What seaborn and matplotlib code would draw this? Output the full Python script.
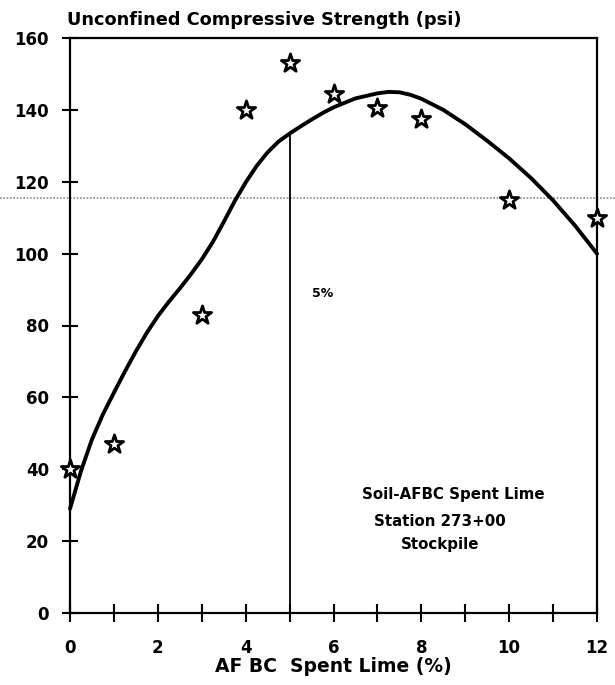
import matplotlib
matplotlib.use("Agg")
import matplotlib.pyplot as plt
import matplotlib.transforms as mtransforms
import seaborn as sns
import pandas as pd

# Measured strengths (stars)
lime_pct = [0, 1, 3, 4, 5, 6, 7, 8, 10, 12]
strength = [40, 47, 83, 140, 153, 144.5, 140.5, 137.5, 115, 110]

# Fitted strength curve
curve_pct = [0, 0.25, 0.5, 0.75, 1, 1.25, 1.5, 1.75, 2, 2.25, 2.5, 2.75,
             3, 3.25, 3.5, 3.75, 4, 4.25, 4.5, 4.75, 5, 5.25, 5.5, 5.75,
             6, 6.5, 7, 7.25, 7.5, 7.75, 8, 8.5, 9, 9.5, 10, 10.5, 11,
             11.5, 12]
curve_strength = [29, 39.5, 48.3, 55.3, 61.3, 67.2, 72.8, 78, 82.6, 86.6,
                  90.3, 94.2, 98.4, 103.2, 108.8, 114.6, 119.8, 124.4,
                  128.2, 131.2, 133.4, 135.4, 137.3, 139.1, 140.7, 143.2,
                  144.6, 145, 144.9, 144.2, 143.1, 140, 136, 131.4, 126.5,
                  121, 114.8, 107.8, 100]

# Optimum lime content marker
optimum_pct = 5
optimum_strength = 133.4

# Horizontal reference line across the sheet
ref_level = 115.6

x_ticks = list(range(0, 13))
x_tick_labels = [str(v) if v % 2 == 0 else "" for v in x_ticks]
y_ticks = list(range(0, 161, 20))

sns.set_style("white")
plt.rcParams["font.family"] = ["DejaVu Sans"]
plt.rcParams["font.weight"] = "bold"
plt.rcParams["text.color"] = "black"

fig = plt.figure(figsize=(6.15, 6.85), dpi=100)
ax = fig.add_axes([70 / 615, 1 - 613 / 685, 527 / 615, 575 / 685])

curve_df = pd.DataFrame({"pct": curve_pct, "ucs": curve_strength})
pts_df = pd.DataFrame({"pct": lime_pct, "ucs": strength})

sns.lineplot(data=curve_df, x="pct", y="ucs", ax=ax, color="black",
             linewidth=2.8, sort=False, clip_on=False, zorder=3)
for ln in ax.lines:
    ln.set_solid_joinstyle("round")
    ln.set_solid_capstyle("round")
sns.scatterplot(data=pts_df, x="pct", y="ucs", ax=ax, marker="*", s=190,
                facecolor="white", edgecolor="black", linewidth=2.0,
                clip_on=False, zorder=4)

ax.plot([optimum_pct, optimum_pct], [0, optimum_strength], color="black",
        linewidth=1.3, zorder=2)
ax.text(5.75, 89, "5%", ha="center", va="center", fontsize=9,
        fontweight="bold", color="black")

ax.text(8.72, 33, "Soil-AFBC Spent Lime", ha="center", va="center",
        fontsize=10.8, fontweight="bold", color="black")
ax.text(8.43, 25.4, "Station 273+00", ha="center", va="center",
        fontsize=10.8, fontweight="bold", color="black")
ax.text(8.43, 19.2, "Stockpile", ha="center", va="center",
        fontsize=10.8, fontweight="bold", color="black")

trans = mtransforms.blended_transform_factory(fig.transFigure, ax.transData)
ax.plot([0, 1], [ref_level, ref_level], transform=trans, color="#8a8a8a",
        linestyle=(0, (1, 1)), linewidth=1.2, clip_on=False, zorder=1)

ax.set_xlim(0, 12)
ax.set_ylim(0, 160)
ax.set_xticks(x_ticks)
ax.set_xticklabels(x_tick_labels)
ax.set_yticks(y_ticks)

for side in ["left", "right", "top", "bottom"]:
    ax.spines[side].set_visible(True)
    ax.spines[side].set_color("black")
    ax.spines[side].set_linewidth(1.6)

ax.tick_params(axis="x", direction="inout", length=13, width=1.5,
               pad=12, labelsize=12, colors="black", bottom=True)
ax.tick_params(axis="y", direction="inout", length=12, width=1.5,
               pad=9, labelsize=12, colors="black", left=True)
for lab in ax.get_xticklabels() + ax.get_yticklabels():
    lab.set_fontweight("bold")

ax.set_xlabel("AF BC  Spent Lime (%)", fontsize=13.5, fontweight="bold",
              labelpad=0, color="black")
ax.set_ylabel("")

fig.text(67 / 615, 1 - 20 / 685, "Unconfined Compressive Strength (psi)",
         ha="left", va="center", fontsize=12.8, fontweight="bold",
         color="black")

fig.savefig("out.png", dpi=100)
